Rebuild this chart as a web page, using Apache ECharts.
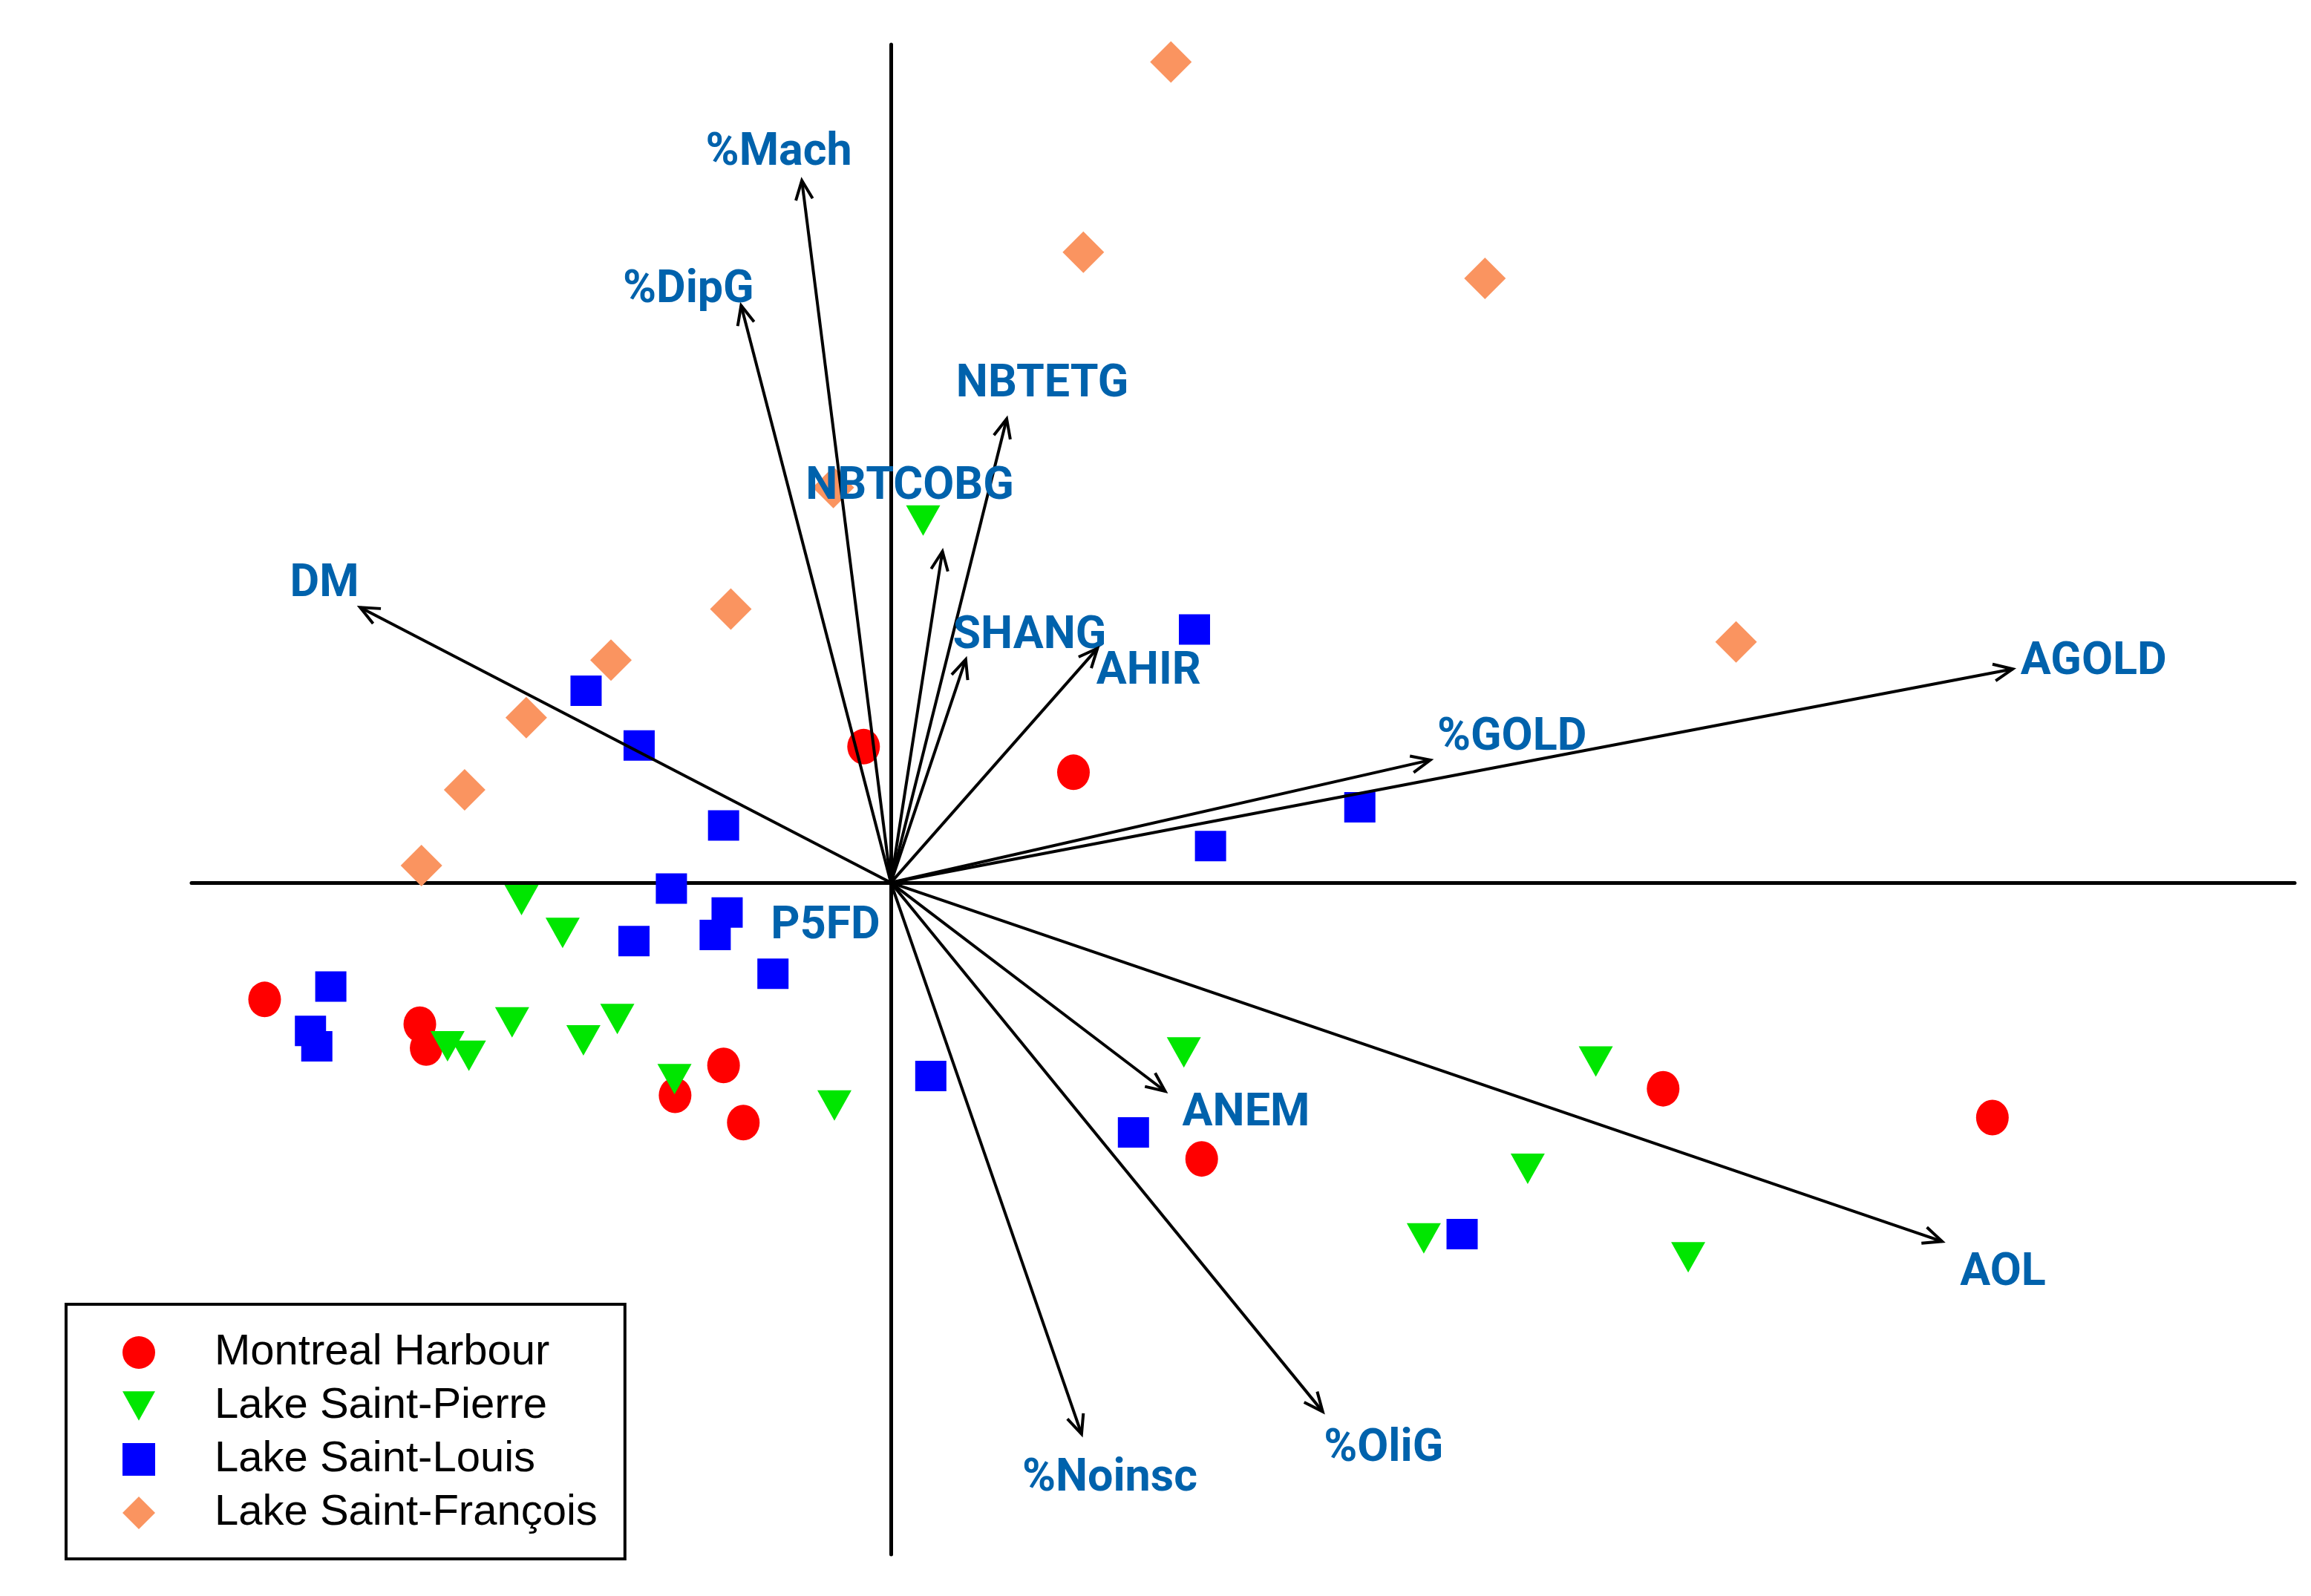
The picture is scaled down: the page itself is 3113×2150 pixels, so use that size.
<!DOCTYPE html>
<html>
<head>
<meta charset="utf-8">
<script src="https://cdn.jsdelivr.net/npm/echarts/dist/echarts.min.js"></script>
<style>
  html, body { margin: 0; padding: 0; background: #ffffff; }
  #chart { width: 3113px; height: 2150px; }
</style>
</head>
<body>
<div id="chart"></div>
<script>
// ---- Data (PCA scores and loadings) ----
const seriesNames = ['Montreal Harbour', 'Lake Saint-Pierre', 'Lake Saint-Louis', 'Lake Saint-François'];

const montrealHarbour = [
  [-0.185, 0.923], [1.239, 0.749], [-4.249, -0.792], [-3.196, -0.960], [-3.153, -1.122],
  [-1.135, -1.240], [-1.464, -1.443], [-1.001, -1.628], [2.109, -1.874], [5.240, -1.398],
  [7.474, -1.594]
];
const lakeSaintPierre = [
  [0.219, 2.457], [-2.506, -0.118], [-2.227, -0.341], [-2.570, -0.948], [-1.856, -0.925],
  [-2.086, -1.070], [-3.008, -1.110], [-2.863, -1.174], [-1.468, -1.333], [-0.383, -1.512],
  [1.988, -1.152], [4.783, -1.214], [4.321, -1.941], [3.616, -2.413], [5.410, -2.542]
];
const lakeSaintLouis = [
  [2.060, 1.718], [-2.068, 1.302], [-1.708, 0.931], [-1.135, 0.388], [3.182, 0.511],
  [2.169, 0.248], [-1.489, -0.040], [-1.111, -0.202], [-1.192, -0.355], [-1.743, -0.396],
  [-0.800, -0.618], [-3.800, -0.705], [-3.938, -1.006], [-3.895, -1.110], [0.271, -1.312],
  [1.646, -1.695], [3.876, -2.384]
];
const lakeSaintFrancois = [
  [1.900, 5.569], [1.306, 4.278], [4.031, 4.101], [-0.390, 2.681], [-1.086, 1.857],
  [-1.899, 1.510], [-2.474, 1.120], [-2.892, 0.630], [-3.185, 0.116], [5.735, 1.634]
];

const varNames = ['DM', '%Mach', '%DipG', 'NBTETG', 'NBTCOBG', 'SHANG', 'AHIR',
                  '%GOLD', 'AGOLD', 'P5FD', 'ANEM', 'AOL', '%OliG', '%Noinsc'];
const varX = [-3.601, -0.604, -1.016, 0.786, 0.350, 0.508, 1.402,
              3.660, 7.612, -0.020, 1.861, 7.133, 2.930, 1.294];
const varY = [1.868, 4.764, 3.916, 3.147, 2.248, 1.515, 1.590,
              0.832, 1.450, -0.030, -1.415, -2.434, -3.589, -3.741];

// ---- Layout / style (pixel offsets of variable labels from arrow tips) ----
const labelOffsets = {
  'DM': [-48, -30], '%Mach': [-31, -36], '%DipG': [-71, -20], 'NBTETG': [48, -46],
  'NBTCOBG': [-44, -86], 'SHANG': [86, -31], 'AHIR': [69, 32], '%GOLD': [110, -29],
  'AGOLD': [109, -8], 'P5FD': [-84, 54], 'ANEM': [109, 31], 'AOL': [82, 43],
  '%OliG': [82, 51], '%Noinsc': [38, 61]
};

const loadings = varX.map((x, i) => [x, varY[i], i]);

const chart = echarts.init(document.getElementById('chart'), null, { renderer: 'canvas' });

const hiddenAxis = {
  type: 'value',
  axisLine: { show: true, onZero: true, lineStyle: { color: '#000', width: 5 } },
  axisTick: { show: false },
  axisLabel: { show: false },
  splitLine: { show: false }
};

const downTriangle = 'path://M0,0 L20,0 L10,18 Z';

const option = {
  backgroundColor: '#ffffff',
  animation: false,
  grid: { left: 258, right: 22, top: 60, bottom: 56, containLabel: false },
  xAxis: Object.assign({}, hiddenAxis, { min: -4.745, max: 9.525 }),
  yAxis: Object.assign({}, hiddenAxis, { min: -4.558, max: 5.687 }),
  legend: {
    data: seriesNames,
    orient: 'vertical',
    left: 89,
    top: 1757,
    backgroundColor: '#ffffff',
    borderColor: '#000000',
    borderWidth: 4,
    borderRadius: 0,
    padding: [36, 37, 33, 76],
    itemWidth: 44,
    itemHeight: 44,
    itemGap: 14,
    textStyle: {
      fontFamily: 'Liberation Sans',
      fontSize: 58,
      color: '#000000',
      padding: [0, 0, 0, 75]
    }
  },
  series: [
    {
      name: seriesNames[0], type: 'scatter', data: montrealHarbour,
      symbol: 'circle', symbolSize: [44, 48],
      itemStyle: { color: '#FF0000', opacity: 1 }, z: 2
    },
    {
      name: seriesNames[1], type: 'scatter', data: lakeSaintPierre,
      symbol: downTriangle, symbolSize: [46, 41],
      itemStyle: { color: '#00E600', opacity: 1 }, z: 2
    },
    {
      name: seriesNames[2], type: 'scatter', data: lakeSaintLouis,
      symbol: 'rect', symbolSize: [42, 41],
      itemStyle: { color: '#0000FF', opacity: 1 }, z: 2
    },
    {
      name: seriesNames[3], type: 'scatter', data: lakeSaintFrancois,
      symbol: 'diamond', symbolSize: [56, 56],
      itemStyle: { color: '#FA9460', opacity: 1 }, z: 2
    },
    {
      name: 'loadings',
      type: 'custom',
      data: loadings,
      encode: { x: 0, y: 1 },
      clip: false,
      z: 5,
      silent: true,
      renderItem: function (params, api) {
        const i = api.value(2);
        const name = varNames[i];
        const o = api.coord([0, 0]);
        const t = api.coord([api.value(0), api.value(1)]);
        const dx = t[0] - o[0], dy = t[1] - o[1];
        const L = Math.hypot(dx, dy);
        const children = [];
        if (L > 30) {
          children.push({
            type: 'line',
            shape: { x1: o[0], y1: o[1], x2: t[0], y2: t[1] },
            style: { stroke: '#000', lineWidth: 4 }
          });
          const bx = -dx / L, by = -dy / L;
          const a = 24 * Math.PI / 180, len = 28;
          const p1 = [t[0] + len * (bx * Math.cos(a) - by * Math.sin(a)),
                      t[1] + len * (bx * Math.sin(a) + by * Math.cos(a))];
          const p2 = [t[0] + len * (bx * Math.cos(-a) - by * Math.sin(-a)),
                      t[1] + len * (bx * Math.sin(-a) + by * Math.cos(-a))];
          children.push({
            type: 'polyline',
            shape: { points: [p1, t, p2] },
            style: { stroke: '#000', lineWidth: 4, fill: 'none' }
          });
        }
        const off = labelOffsets[name] || [0, 0];
        children.push({
          type: 'text',
          x: t[0] + off[0],
          y: t[1] + off[1],
          style: {
            text: name,
            fill: '#0062AC',
            fontFamily: 'Roboto',
            fontWeight: 'bold',
            fontSize: 61,
            align: 'center',
            verticalAlign: 'middle'
          }
        });
        return { type: 'group', children: children };
      }
    }
  ]
};

chart.setOption(option);
</script>
</body>
</html>
